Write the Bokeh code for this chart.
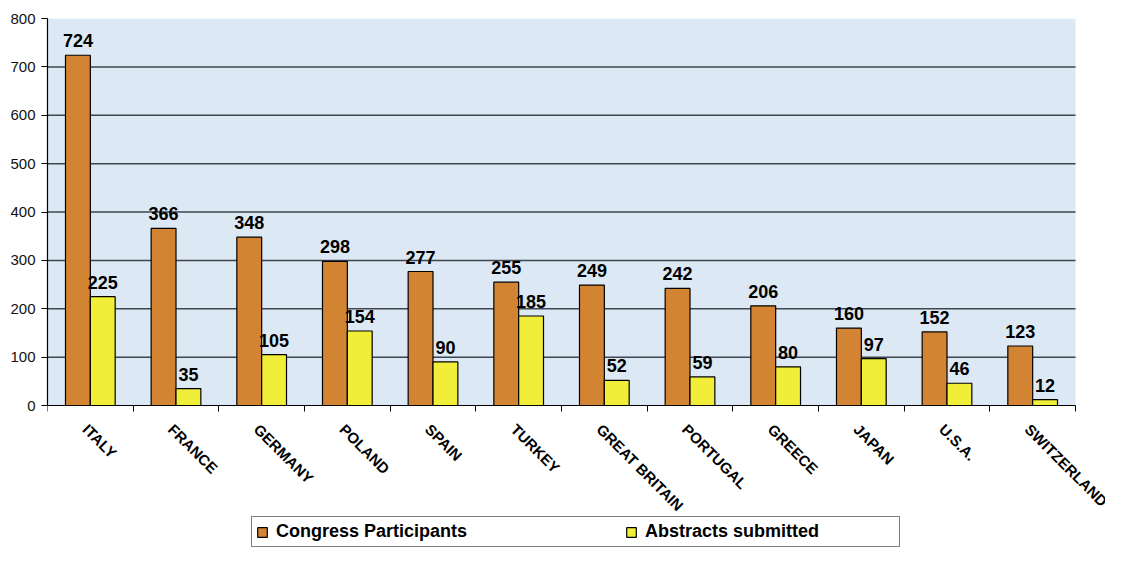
import math
from bokeh.plotting import figure
from bokeh.models import (ColumnDataSource, FixedTicker, Range1d, Legend, LegendItem,
                          LinearAxis, Grid)
from bokeh.core.properties import value
from bokeh.embed import file_html
from bokeh.resources import INLINE

countries = ["ITALY", "FRANCE", "GERMANY", "POLAND", "SPAIN", "TURKEY",
             "GREAT BRITAIN", "PORTUGAL", "GREECE", "JAPAN", "U.S.A.", "SWITZERLAND"]
participants = [724, 366, 348, 298, 277, 255, 249, 242, 206, 160, 152, 123]
abstracts = [225, 35, 105, 154, 90, 185, 52, 59, 80, 97, 46, 12]
y_ticks = [0, 100, 200, 300, 400, 500, 600, 700, 800]

FONT = "Liberation Sans"
ORANGE = "#D38433"
YELLOW = "#F1EE3A"
BLUE = "#DCE9F5"
GRID = "#3E4650"
BW = 0.29

# page geometry (pixels)
W, H = 1105, 548
LEFT, TOP = 47, 18
PLOT_RIGHT, PLOT_BOTTOM = 1075, 405

n = len(countries)
ymax = y_ticks[-1]
px_x = (PLOT_RIGHT - LEFT) / n
px_y = (PLOT_BOTTOM - TOP) / ymax
x_end = n + (W - PLOT_RIGHT) / px_x
y_start = -(H - PLOT_BOTTOM) / px_y

centers = [i + 0.5 for i in range(n)]
src = ColumnDataSource(dict(
    xc=centers,
    xo=[c - BW / 2 for c in centers],
    xy=[c + BW / 2 for c in centers],
    part=participants,
    abst=abstracts,
    part_txt=[str(v) for v in participants],
    abst_txt=[str(v) for v in abstracts],
    name=countries,
    zero=[0] * n,
))

p = figure(width=W, height=H, output_backend="svg", toolbar_location=None,
           x_range=Range1d(0, x_end), y_range=Range1d(y_start, ymax),
           x_axis_location=None,
           min_border_left=LEFT, min_border_right=0, min_border_top=TOP, min_border_bottom=0)
p.background_fill_color = "white"
p.border_fill_color = "white"
p.outline_line_color = None
for r in p.center:
    if isinstance(r, Grid):
        r.visible = False

# plot area background and horizontal grid lines
p.quad(left=[0], right=[n], bottom=[0], top=[ymax], fill_color=BLUE, line_color=None)
gy = y_ticks[1:-1]
p.segment(x0=[0] * len(gy), x1=[n] * len(gy), y0=gy, y1=gy,
          line_color=GRID, line_width=1.5)

r1 = p.vbar(x="xo", top="part", width=BW, source=src, fill_color=ORANGE,
            line_color="black", line_width=1.2)
r2 = p.vbar(x="xy", top="abst", width=BW, source=src, fill_color=YELLOW,
            line_color="black", line_width=1.2)

for xcol, ycol, tcol in (("xo", "part", "part_txt"), ("xy", "abst", "abst_txt")):
    p.text(x=xcol, y=ycol, text=tcol, source=src, text_align="center",
           text_baseline="bottom", y_offset=-8, text_font=value(FONT),
           text_font_style="bold", text_font_size="18px", text_color="black")

# category names, rotated
p.text(x="xc", y="zero", text="name", source=src, angle=-math.pi / 4,
       text_align="left", text_baseline="top", x_offset=1, y_offset=15,
       text_font=value(FONT), text_font_style="bold", text_font_size="15px",
       text_color="black")

# y axis
p.yaxis.ticker = FixedTicker(ticks=y_ticks)
p.yaxis.bounds = (0, ymax)
p.yaxis.axis_line_color = "black"
p.yaxis.axis_line_width = 1.2
p.yaxis.major_tick_out = 6
p.yaxis.major_tick_in = 0
p.yaxis.minor_tick_line_color = None
p.yaxis.major_tick_line_color = "black"
p.yaxis.major_label_text_font = FONT
p.yaxis.major_label_text_font_size = "15px"
p.yaxis.major_label_text_color = "#111111"
p.yaxis.major_label_standoff = 6

# x axis line at y = 0 with ticks at category boundaries
xa = LinearAxis(fixed_location=0, bounds=(0, n),
                ticker=FixedTicker(ticks=[], minor_ticks=list(range(n + 1))))
xa.axis_line_color = "black"
xa.axis_line_width = 1.2
xa.major_tick_out = 0
xa.major_tick_in = 0
xa.minor_tick_out = 0
xa.minor_tick_in = 6
xa.minor_tick_line_color = "black"
xa.major_label_text_font_size = "1px"
xa.major_label_standoff = 0
p.add_layout(xa, "above")

legend = Legend(items=[LegendItem(label="Congress Participants", renderers=[r1]),
                       LegendItem(label="Abstracts submitted", renderers=[r2])],
                orientation="horizontal", location=(204, 1))
legend.label_text_font = FONT
legend.label_text_font_style = "bold"
legend.label_text_font_size = "18px"
legend.label_text_color = "black"
legend.label_height = 18
legend.glyph_width = 12
legend.glyph_height = 12
legend.label_standoff = 8
legend.label_width = 250
legend.spacing = 99
legend.padding = 4
legend.margin = 0
legend.border_line_color = "black"
legend.border_line_width = 1
legend.background_fill_color = "white"
legend.background_fill_alpha = 1
p.add_layout(legend, "center")

open("out.html", "w").write(file_html(p, INLINE))
